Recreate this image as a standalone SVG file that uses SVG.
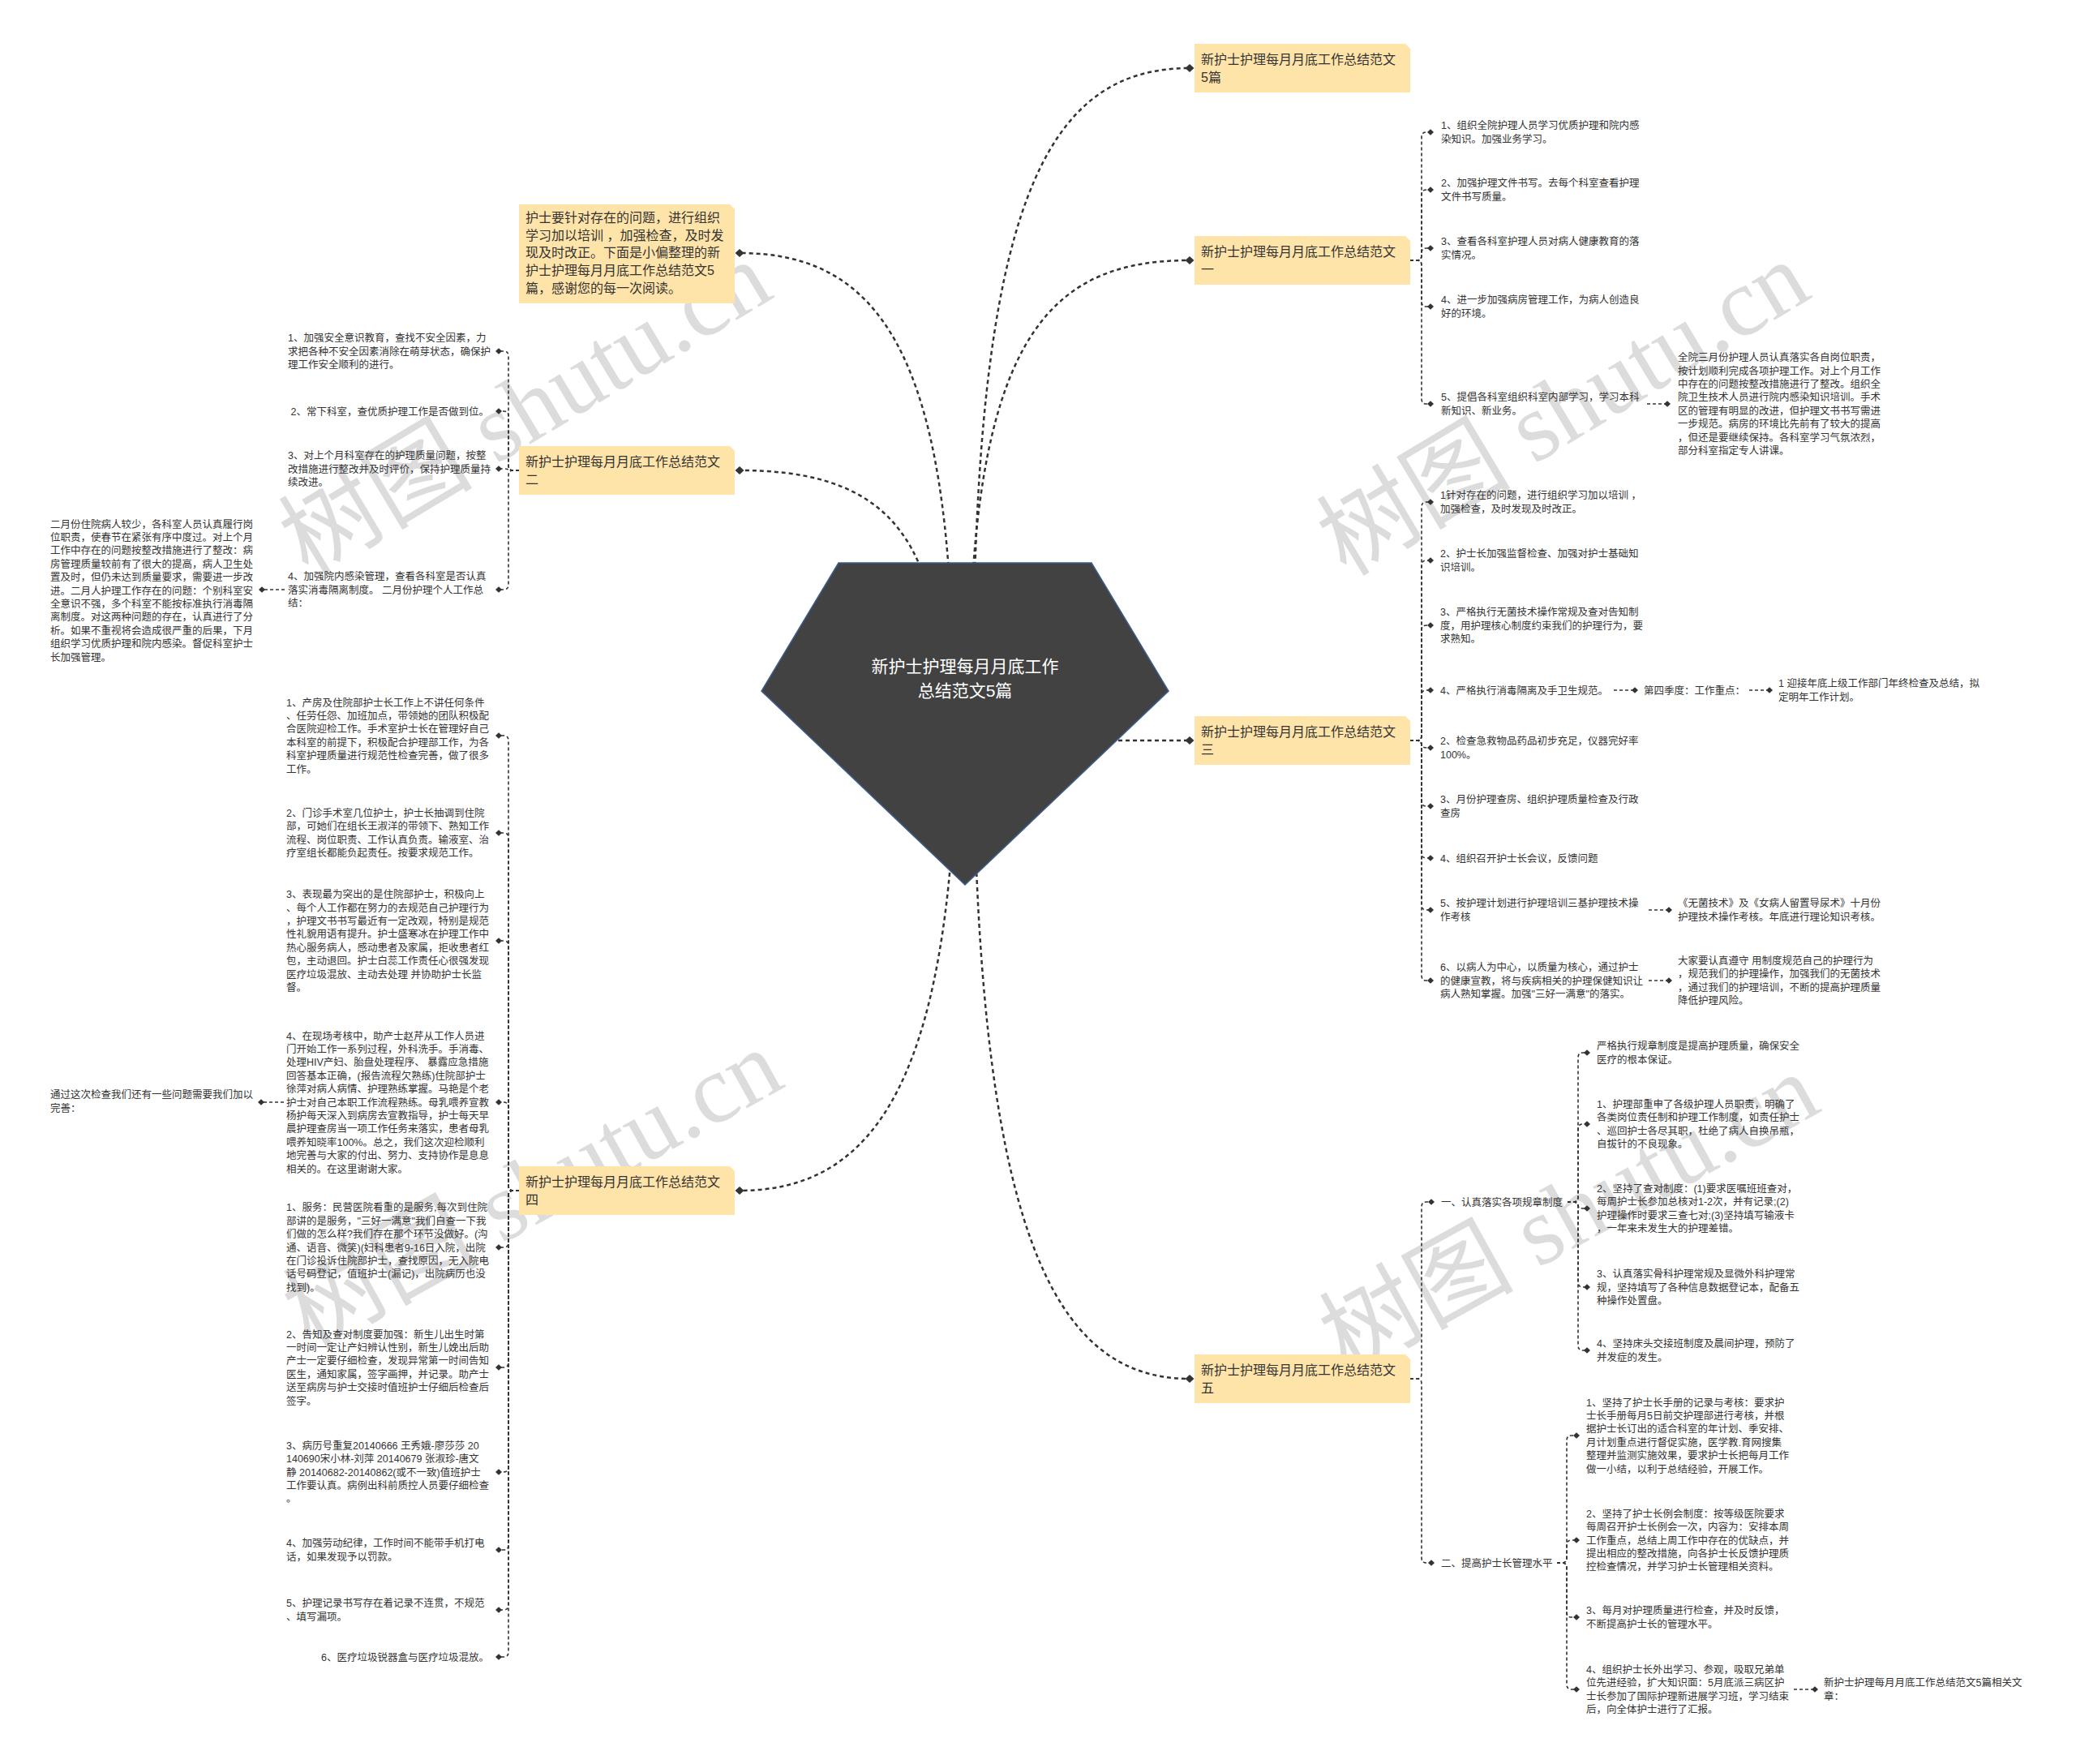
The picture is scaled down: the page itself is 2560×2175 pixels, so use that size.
<svg xmlns="http://www.w3.org/2000/svg" width="2560" height="2175" viewBox="0 0 2560 2175">
<style>
.t{font-family:"Liberation Sans","Noto Sans CJK SC",sans-serif;font-size:12.5px;fill:#333}
.n{font-family:"Liberation Sans","Noto Sans CJK SC",sans-serif;font-size:16px;fill:#333}
.c{font-family:"Liberation Sans","Noto Sans CJK SC",sans-serif;font-size:21px;fill:#fff}
.box{fill:#FFE4AA}
.main{fill:none;stroke:#333;stroke-width:2.5;stroke-dasharray:5 4;marker-end:url(#dm)}
.sub{fill:none;stroke:#333;stroke-width:1.6;stroke-dasharray:4 3;marker-end:url(#ds)}
.wm{font-family:"Liberation Serif","Noto Sans CJK SC",serif;font-size:120px;fill:#dcdcdc}
</style>
<defs>
<marker id="dm" viewBox="-6 -6 12 12" markerWidth="12" markerHeight="12" refX="0" refY="0" orient="auto" markerUnits="userSpaceOnUse"><path d="M-5.5,0 L0,-5 L5.5,0 L0,5 Z" fill="#333"/></marker>
<marker id="ds" viewBox="-5 -5 10 10" markerWidth="10" markerHeight="10" refX="0" refY="0" orient="auto" markerUnits="userSpaceOnUse"><path d="M-4,0 L0,-3.8 L4,0 L0,3.8 Z" fill="#333"/></marker>
</defs>
<rect width="2560" height="2175" fill="#fff"/>
<g id="watermarks">
<text class="wm" x="380" y="712" transform="rotate(-31 380 712)">树图 shutu.cn</text>
<text class="wm" x="1660" y="712" transform="rotate(-31 1660 712)">树图 shutu.cn</text>
<text class="wm" x="382" y="1665" transform="rotate(-29 382 1665)">树图 shutu.cn</text>
<text class="wm" x="1660" y="1695" transform="rotate(-29 1660 1695)">树图 shutu.cn</text>
</g>
<g id="connectors">
<path class="main" d="M1175,860 C1175,430 1080,312 912,312"/>
<path class="main" d="M1160,860 C1160,640 1070,580 912,580"/>
<path class="main" d="M1200,860 C1200,250 1290,84 1467,84"/>
<path class="main" d="M1195,860 C1195,420 1290,321 1467,321"/>
<path class="main" d="M1190,913 H1467"/>
<path class="main" d="M1180,860 C1180,1330 1080,1468 912,1468"/>
<path class="main" d="M1200,860 C1200,1520 1300,1700 1467,1700"/>
<!-- branch 二 -->
<path class="sub" d="M640,580 H633 Q627,580 627,574 V439 Q627,433 621,433 H615"/>
<path class="sub" d="M640,580 H633 Q627,580 627,574 V513 Q627,507 621,507 H615"/>
<path class="sub" d="M640,580 H627 Q627,578 621,578 H615"/>
<path class="sub" d="M640,580 H633 Q627,580 627,586 V721 Q627,727 621,727 H615"/>
<path class="sub" d="M351,727 H323"/>
<!-- branch 四 -->
<path class="sub" d="M640,1468 H633 Q627,1468 627,1462 V913 Q627,907 621,907 H615"/>
<path class="sub" d="M640,1468 H633 Q627,1468 627,1462 V1033 Q627,1027 621,1027 H615"/>
<path class="sub" d="M640,1468 H633 Q627,1468 627,1462 V1166 Q627,1160 621,1160 H615"/>
<path class="sub" d="M640,1468 H633 Q627,1468 627,1462 V1365 Q627,1359 621,1359 H615"/>
<path class="sub" d="M640,1468 H633 Q627,1468 627,1474 V1532 Q627,1538 621,1538 H615"/>
<path class="sub" d="M640,1468 H633 Q627,1468 627,1474 V1680 Q627,1686 621,1686 H615"/>
<path class="sub" d="M640,1468 H633 Q627,1468 627,1474 V1809 Q627,1815 621,1815 H615"/>
<path class="sub" d="M640,1468 H633 Q627,1468 627,1474 V1905 Q627,1911 621,1911 H615"/>
<path class="sub" d="M640,1468 H633 Q627,1468 627,1474 V1979 Q627,1985 621,1985 H615"/>
<path class="sub" d="M640,1468 H633 Q627,1468 627,1474 V2037 Q627,2043 621,2043 H615"/>
<path class="sub" d="M350,1359 H322"/>
<!-- branch 一 -->
<path class="sub" d="M1739,321 H1747 Q1753,321 1753,315 V169 Q1753,163 1759,163 H1764"/>
<path class="sub" d="M1739,321 H1747 Q1753,321 1753,315 V240 Q1753,234 1759,234 H1764"/>
<path class="sub" d="M1739,321 H1747 Q1753,321 1753,315 V312 Q1753,306 1759,306 H1764"/>
<path class="sub" d="M1739,321 H1747 Q1753,321 1753,327 V372 Q1753,378 1759,378 H1764"/>
<path class="sub" d="M1739,321 H1747 Q1753,321 1753,327 V492 Q1753,498 1759,498 H1764"/>
<path class="sub" d="M2031,498 H2056"/>
<!-- branch 三 -->
<path class="sub" d="M1739,913 H1747 Q1753,913 1753,907 V625 Q1753,619 1759,619 H1764"/>
<path class="sub" d="M1739,913 H1747 Q1753,913 1753,907 V697 Q1753,691 1759,691 H1764"/>
<path class="sub" d="M1739,913 H1747 Q1753,913 1753,907 V777 Q1753,771 1759,771 H1764"/>
<path class="sub" d="M1739,913 H1747 Q1753,913 1753,907 V857 Q1753,851 1759,851 H1764"/>
<path class="sub" d="M1739,913 H1747 Q1753,913 1753,917.5 Q1753,922 1759,922 H1764"/>
<path class="sub" d="M1739,913 H1747 Q1753,913 1753,919 V988 Q1753,994 1759,994 H1764"/>
<path class="sub" d="M1739,913 H1747 Q1753,913 1753,919 V1052 Q1753,1058 1759,1058 H1764"/>
<path class="sub" d="M1739,913 H1747 Q1753,913 1753,919 V1116 Q1753,1122 1759,1122 H1764"/>
<path class="sub" d="M1739,913 H1747 Q1753,913 1753,919 V1203 Q1753,1209 1759,1209 H1764"/>
<path class="sub" d="M1990,851 H2016"/>
<path class="sub" d="M2157,851 H2182"/>
<path class="sub" d="M2033,1122 H2058"/>
<path class="sub" d="M2033,1209 H2058"/>
<!-- branch 五 -->
<path class="sub" d="M1739,1700 H1747 Q1753,1700 1753,1694 V1488 Q1753,1482 1759,1482 H1765"/>
<path class="sub" d="M1739,1700 H1747 Q1753,1700 1753,1706 V1921 Q1753,1927 1759,1927 H1765"/>
<path class="sub" d="M1933,1482 H1940 Q1946,1482 1946,1476 V1304 Q1946,1298 1952,1298 H1957"/>
<path class="sub" d="M1933,1482 H1940 Q1946,1482 1946,1476 V1392 Q1946,1386 1952,1386 H1957"/>
<path class="sub" d="M1933,1482 H1940 Q1946,1482 1946,1486 Q1946,1490 1952,1490 H1957"/>
<path class="sub" d="M1933,1482 H1940 Q1946,1482 1946,1488 V1581 Q1946,1587 1952,1587 H1957"/>
<path class="sub" d="M1933,1482 H1940 Q1946,1482 1946,1488 V1659 Q1946,1665 1952,1665 H1957"/>
<path class="sub" d="M1920,1927 H1926 Q1932,1927 1932,1921 V1776 Q1932,1770 1938,1770 H1944"/>
<path class="sub" d="M1920,1927 H1926 Q1932,1927 1932,1921 V1905 Q1932,1899 1938,1899 H1944"/>
<path class="sub" d="M1920,1927 H1926 Q1932,1927 1932,1933 V1988 Q1932,1994 1938,1994 H1944"/>
<path class="sub" d="M1920,1927 H1926 Q1932,1927 1932,1933 V2077 Q1932,2083 1938,2083 H1944"/>
<path class="sub" d="M2212,2083 H2238"/>
</g>
<g id="center">
<polygon points="1034,694 1346,694 1441,852 1190,1091 939,852" fill="#424242" stroke="#3d5f8f" stroke-width="1.5"/>
<text class="c" text-anchor="middle" x="1190" y="829">新护士护理每月月底工作</text>
<text class="c" text-anchor="middle" x="1190" y="859">总结范文5篇</text>
</g>
<g id="node-intro">
<path class="box" d="M640,252 H900 L906,258 V374 H640 Z"/>
<text class="n" x="648" y="274"><tspan x="648">护士要针对存在的问题，进行组织</tspan><tspan x="648" dy="21.7">学习加以培训 ，加强检查，及时发</tspan><tspan x="648" dy="21.7">现及时改正。下面是小偏整理的新</tspan><tspan x="648" dy="21.7">护士护理每月月底工作总结范文5</tspan><tspan x="648" dy="21.7">篇，感谢您的每一次阅读。</tspan></text>
</g>
<g id="node-2">
<path class="box" d="M640,550 H900 L906,556 V610 H640 Z"/>
<text class="n" x="648" y="574.6"><tspan x="648">新护士护理每月月底工作总结范文</tspan><tspan x="648" dy="22">二</tspan></text>
</g>
<g id="node-4">
<path class="box" d="M640,1438 H900 L906,1444 V1498 H640 Z"/>
<text class="n" x="648" y="1462.6"><tspan x="648">新护士护理每月月底工作总结范文</tspan><tspan x="648" dy="22">四</tspan></text>
</g>
<g id="node-5pian">
<path class="box" d="M1473,54 H1733 L1739,60 V114 H1473 Z"/>
<text class="n" x="1481" y="78.6"><tspan x="1481">新护士护理每月月底工作总结范文</tspan><tspan x="1481" dy="22">5篇</tspan></text>
</g>
<g id="node-1">
<path class="box" d="M1473,291 H1733 L1739,297 V351 H1473 Z"/>
<text class="n" x="1481" y="315.6"><tspan x="1481">新护士护理每月月底工作总结范文</tspan><tspan x="1481" dy="22">一</tspan></text>
</g>
<g id="node-3">
<path class="box" d="M1473,883 H1733 L1739,889 V943 H1473 Z"/>
<text class="n" x="1481" y="907.6"><tspan x="1481">新护士护理每月月底工作总结范文</tspan><tspan x="1481" dy="22">三</tspan></text>
</g>
<g id="node-5">
<path class="box" d="M1473,1670 H1733 L1739,1676 V1730 H1473 Z"/>
<text class="n" x="1481" y="1694.6"><tspan x="1481">新护士护理每月月底工作总结范文</tspan><tspan x="1481" dy="22">五</tspan></text>
</g>
<!-- branch 二 leaves -->
<g id="b2-1"><text class="t" x="355" y="421.1"><tspan x="355">1、加强安全意识教育，查找不安全因素，力</tspan><tspan x="355" dy="16.4">求把各种不安全因素消除在萌芽状态，确保护</tspan><tspan x="355" dy="16.4">理工作安全顺利的进行。</tspan></text></g>
<g id="b2-2"><text class="t" x="603" y="511.5" text-anchor="end">2、常下科室，查优质护理工作是否做到位。</text></g>
<g id="b2-3"><text class="t" x="355" y="566.1"><tspan x="355">3、对上个月科室存在的护理质量问题，按整</tspan><tspan x="355" dy="16.4">改措施进行整改并及时评价，保持护理质量持</tspan><tspan x="355" dy="16.4">续改进。</tspan></text></g>
<g id="b2-4"><text class="t" x="355" y="715.1"><tspan x="355">4、加强院内感染管理，查看各科室是否认真</tspan><tspan x="355" dy="16.4">落实消毒隔离制度。 二月份护理个人工作总</tspan><tspan x="355" dy="16.4">结：</tspan></text></g>
<g id="b2-4-1"><text class="t" x="62" y="650.5"><tspan x="62">二月份住院病人较少，各科室人员认真履行岗</tspan><tspan x="62" dy="16.4">位职责，使春节在紧张有序中度过。对上个月</tspan><tspan x="62" dy="16.4">工作中存在的问题按整改措施进行了整改：病</tspan><tspan x="62" dy="16.4">房管理质量较前有了很大的提高，病人卫生处</tspan><tspan x="62" dy="16.4">置及时，但仍未达到质量要求，需要进一步改</tspan><tspan x="62" dy="16.4">进。二月人护理工作存在的问题：个别科室安</tspan><tspan x="62" dy="16.4">全意识不强，多个科室不能按标准执行消毒隔</tspan><tspan x="62" dy="16.4">离制度。对这两种问题的存在，认真进行了分</tspan><tspan x="62" dy="16.4">析。如果不重视将会造成很严重的后果，下月</tspan><tspan x="62" dy="16.4">组织学习优质护理和院内感染。督促科室护士</tspan><tspan x="62" dy="16.4">长加强管理。</tspan></text></g>
<!-- branch 四 leaves -->
<g id="b4-1"><text class="t" x="353" y="870.5"><tspan x="353">1、产房及住院部护士长工作上不讲任何条件</tspan><tspan x="353" dy="16.4">、任劳任怨、加班加点，带领她的团队积极配</tspan><tspan x="353" dy="16.4">合医院迎检工作。手术室护士长在管理好自己</tspan><tspan x="353" dy="16.4">本科室的前提下，积极配合护理部工作，为各</tspan><tspan x="353" dy="16.4">科室护理质量进行规范性检查完善，做了很多</tspan><tspan x="353" dy="16.4">工作。</tspan></text></g>
<g id="b4-2"><text class="t" x="353" y="1006.9"><tspan x="353">2、门诊手术室几位护士，护士长抽调到住院</tspan><tspan x="353" dy="16.4">部，可她们在组长王淑洋的带领下、熟知工作</tspan><tspan x="353" dy="16.4">流程、岗位职责、工作认真负责。输液室、治</tspan><tspan x="353" dy="16.4">疗室组长都能负起责任。按要求规范工作。</tspan></text></g>
<g id="b4-3"><text class="t" x="353" y="1107.1"><tspan x="353">3、表现最为突出的是住院部护士，积极向上</tspan><tspan x="353" dy="16.4">、每个人工作都在努力的去规范自己护理行为</tspan><tspan x="353" dy="16.4">，护理文书书写最近有一定改观，特别是规范</tspan><tspan x="353" dy="16.4">性礼貌用语有提升。护士盛寒冰在护理工作中</tspan><tspan x="353" dy="16.4">热心服务病人，感动患者及家属，拒收患者红</tspan><tspan x="353" dy="16.4">包，主动退回。护士白蕊工作责任心很强发现</tspan><tspan x="353" dy="16.4">医疗垃圾混放、主动去处理 并协助护士长监</tspan><tspan x="353" dy="16.4">督。</tspan></text></g>
<g id="b4-4"><text class="t" x="353" y="1281.5"><tspan x="353">4、在现场考核中，助产士赵芹从工作人员进</tspan><tspan x="353" dy="16.4">门开始工作一系列过程，外科洗手。手消毒、</tspan><tspan x="353" dy="16.4">处理HIV产妇、胎盘处理程序、 暴露应急措施</tspan><tspan x="353" dy="16.4">回答基本正确，(报告流程欠熟练)住院部护士</tspan><tspan x="353" dy="16.4">徐萍对病人病情、护理熟练掌握。马艳是个老</tspan><tspan x="353" dy="16.4">护士对自己本职工作流程熟练。母乳喂养宣教</tspan><tspan x="353" dy="16.4">杨护每天深入到病房去宣教指导，护士每天早</tspan><tspan x="353" dy="16.4">晨护理查房当一项工作任务来落实，患者母乳</tspan><tspan x="353" dy="16.4">喂养知晓率100%。总之，我们这次迎检顺利</tspan><tspan x="353" dy="16.4">地完善与大家的付出、努力、支持协作是息息</tspan><tspan x="353" dy="16.4">相关的。在这里谢谢大家。</tspan></text></g>
<g id="b4-4-1"><text class="t" x="62" y="1354.3"><tspan x="62">通过这次检查我们还有一些问题需要我们加以</tspan><tspan x="62" dy="16.4">完善：</tspan></text></g>
<g id="b4-5"><text class="t" x="353" y="1493.3"><tspan x="353">1、服务：民营医院看重的是服务,每次到住院</tspan><tspan x="353" dy="16.4">部讲的是服务，"三好一满意"我们自查一下我</tspan><tspan x="353" dy="16.4">们做的怎么样?我们存在那个环节没做好。(沟</tspan><tspan x="353" dy="16.4">通、语音、微笑)(妇科患者9-16日入院，出院</tspan><tspan x="353" dy="16.4">在门诊投诉住院部护士，查找原因，无入院电</tspan><tspan x="353" dy="16.4">话号码登记，值班护士(漏记)，出院病历也没</tspan><tspan x="353" dy="16.4">找到)。</tspan></text></g>
<g id="b4-6"><text class="t" x="353" y="1649.5"><tspan x="353">2、告知及查对制度要加强：新生儿出生时第</tspan><tspan x="353" dy="16.4">一时间一定让产妇辨认性别，新生儿娩出后助</tspan><tspan x="353" dy="16.4">产士一定要仔细检查，发现异常第一时间告知</tspan><tspan x="353" dy="16.4">医生，通知家属，签字画押，并记录。助产士</tspan><tspan x="353" dy="16.4">送至病房与护士交接时值班护士仔细后检查后</tspan><tspan x="353" dy="16.4">签字。</tspan></text></g>
<g id="b4-7"><text class="t" x="353" y="1786.7"><tspan x="353">3、病历号重复20140666 王秀娥-廖莎莎 20</tspan><tspan x="353" dy="16.4">140690宋小林-刘萍 20140679 张淑珍-唐文</tspan><tspan x="353" dy="16.4">静 20140682-20140862(或不一致)值班护士</tspan><tspan x="353" dy="16.4">工作要认真。病例出科前质控人员要仔细检查</tspan><tspan x="353" dy="16.4">。</tspan></text></g>
<g id="b4-8"><text class="t" x="353" y="1907.3"><tspan x="353">4、加强劳动纪律，工作时间不能带手机打电</tspan><tspan x="353" dy="16.4">话，如果发现予以罚款。</tspan></text></g>
<g id="b4-9"><text class="t" x="353" y="1981.3"><tspan x="353">5、护理记录书写存在着记录不连贯，不规范</tspan><tspan x="353" dy="16.4">、填写漏项。</tspan></text></g>
<g id="b4-10"><text class="t" x="603" y="2047.5" text-anchor="end">6、医疗垃圾锐器盒与医疗垃圾混放。</text></g>
<!-- branch 一 leaves -->
<g id="b1-1"><text class="t" x="1777" y="159.3"><tspan x="1777">1、组织全院护理人员学习优质护理和院内感</tspan><tspan x="1777" dy="16.4">染知识。加强业务学习。</tspan></text></g>
<g id="b1-2"><text class="t" x="1777" y="230.3"><tspan x="1777">2、加强护理文件书写。去每个科室查看护理</tspan><tspan x="1777" dy="16.4">文件书写质量。</tspan></text></g>
<g id="b1-3"><text class="t" x="1777" y="302.3"><tspan x="1777">3、查看各科室护理人员对病人健康教育的落</tspan><tspan x="1777" dy="16.4">实情况。</tspan></text></g>
<g id="b1-4"><text class="t" x="1777" y="374.3"><tspan x="1777">4、进一步加强病房管理工作，为病人创造良</tspan><tspan x="1777" dy="16.4">好的环境。</tspan></text></g>
<g id="b1-5"><text class="t" x="1777" y="494.3"><tspan x="1777">5、提倡各科室组织科室内部学习，学习本科</tspan><tspan x="1777" dy="16.4">新知识、新业务。</tspan></text></g>
<g id="b1-5-1"><text class="t" x="2069" y="445.1"><tspan x="2069">全院三月份护理人员认真落实各自岗位职责，</tspan><tspan x="2069" dy="16.4">按计划顺利完成各项护理工作。对上个月工作</tspan><tspan x="2069" dy="16.4">中存在的问题按整改措施进行了整改。组织全</tspan><tspan x="2069" dy="16.4">院卫生技术人员进行院内感染知识培训。手术</tspan><tspan x="2069" dy="16.4">区的管理有明显的改进，但护理文书书写需进</tspan><tspan x="2069" dy="16.4">一步规范。病房的环境比先前有了较大的提高</tspan><tspan x="2069" dy="16.4">，但还是要继续保持。各科室学习气氛浓烈，</tspan><tspan x="2069" dy="16.4">部分科室指定专人讲课。</tspan></text></g>
<!-- branch 三 leaves -->
<g id="b3-1"><text class="t" x="1776" y="615.3"><tspan x="1776">1针对存在的问题，进行组织学习加以培训 ，</tspan><tspan x="1776" dy="16.4">加强检查，及时发现及时改正。</tspan></text></g>
<g id="b3-2"><text class="t" x="1776" y="687.3"><tspan x="1776">2、护士长加强监督检查、加强对护士基础知</tspan><tspan x="1776" dy="16.4">识培训。</tspan></text></g>
<g id="b3-3"><text class="t" x="1776" y="759.1"><tspan x="1776">3、严格执行无菌技术操作常规及查对告知制</tspan><tspan x="1776" dy="16.4">度，用护理核心制度约束我们的护理行为，要</tspan><tspan x="1776" dy="16.4">求熟知。</tspan></text></g>
<g id="b3-4"><text class="t" x="1776" y="855.5">4、严格执行消毒隔离及手卫生规范。</text></g>
<g id="b3-4-1"><text class="t" x="2027" y="855.5">第四季度：工作重点：</text></g>
<g id="b3-4-1-1"><text class="t" x="2193" y="847.3"><tspan x="2193">1 迎接年底上级工作部门年终检查及总结，拟</tspan><tspan x="2193" dy="16.4">定明年工作计划。</tspan></text></g>
<g id="b3-5"><text class="t" x="1776" y="918.3"><tspan x="1776">2、检查急救物品药品初步充足，仪器完好率</tspan><tspan x="1776" dy="16.4">100%。</tspan></text></g>
<g id="b3-6"><text class="t" x="1776" y="990.3"><tspan x="1776">3、月份护理查房、组织护理质量检查及行政</tspan><tspan x="1776" dy="16.4">查房</tspan></text></g>
<g id="b3-7"><text class="t" x="1776" y="1062.5">4、组织召开护士长会议，反馈问题</text></g>
<g id="b3-8"><text class="t" x="1776" y="1118.3"><tspan x="1776">5、按护理计划进行护理培训三基护理技术操</tspan><tspan x="1776" dy="16.4">作考核</tspan></text></g>
<g id="b3-8-1"><text class="t" x="2069" y="1118.3"><tspan x="2069">《无菌技术》及《女病人留置导尿术》十月份</tspan><tspan x="2069" dy="16.4">护理技术操作考核。年底进行理论知识考核。</tspan></text></g>
<g id="b3-9"><text class="t" x="1776" y="1197.1"><tspan x="1776">6、以病人为中心，以质量为核心，通过护士</tspan><tspan x="1776" dy="16.4">的健康宣教，将与疾病相关的护理保健知识让</tspan><tspan x="1776" dy="16.4">病人熟知掌握。加强"三好一满意"的落实。</tspan></text></g>
<g id="b3-9-1"><text class="t" x="2069" y="1188.9"><tspan x="2069">大家要认真遵守 用制度规范自己的护理行为</tspan><tspan x="2069" dy="16.4">，规范我们的护理操作，加强我们的无菌技术</tspan><tspan x="2069" dy="16.4">，通过我们的护理培训，不断的提高护理质量</tspan><tspan x="2069" dy="16.4">降低护理风险。</tspan></text></g>
<!-- branch 五 -->
<g id="b5-1"><text class="t" x="1777" y="1486.5">一、认真落实各项规章制度</text></g>
<g id="b5-1-a"><text class="t" x="1969" y="1294.3"><tspan x="1969">严格执行规章制度是提高护理质量，确保安全</tspan><tspan x="1969" dy="16.4">医疗的根本保证。</tspan></text></g>
<g id="b5-1-b"><text class="t" x="1969" y="1365.9"><tspan x="1969">1、护理部重申了各级护理人员职责，明确了</tspan><tspan x="1969" dy="16.4">各类岗位责任制和护理工作制度，如责任护士</tspan><tspan x="1969" dy="16.4">、巡回护士各尽其职，杜绝了病人自换吊瓶，</tspan><tspan x="1969" dy="16.4">自拔针的不良现象。</tspan></text></g>
<g id="b5-1-c"><text class="t" x="1969" y="1469.9"><tspan x="1969">2、坚持了查对制度：(1)要求医嘱班班查对，</tspan><tspan x="1969" dy="16.4">每周护士长参加总核对1-2次，并有记录;(2)</tspan><tspan x="1969" dy="16.4">护理操作时要求三查七对;(3)坚持填写输液卡</tspan><tspan x="1969" dy="16.4">，一年来未发生大的护理差错。</tspan></text></g>
<g id="b5-1-d"><text class="t" x="1969" y="1575.1"><tspan x="1969">3、认真落实骨科护理常规及显微外科护理常</tspan><tspan x="1969" dy="16.4">规，坚持填写了各种信息数据登记本，配备五</tspan><tspan x="1969" dy="16.4">种操作处置盘。</tspan></text></g>
<g id="b5-1-e"><text class="t" x="1969" y="1661.3"><tspan x="1969">4、坚持床头交接班制度及晨间护理，预防了</tspan><tspan x="1969" dy="16.4">并发症的发生。</tspan></text></g>
<g id="b5-2"><text class="t" x="1777" y="1931.5">二、提高护士长管理水平</text></g>
<g id="b5-2-a"><text class="t" x="1956" y="1733.5"><tspan x="1956">1、坚持了护士长手册的记录与考核：要求护</tspan><tspan x="1956" dy="16.4">士长手册每月5日前交护理部进行考核，并根</tspan><tspan x="1956" dy="16.4">据护士长订出的适合科室的年计划、季安排、</tspan><tspan x="1956" dy="16.4">月计划重点进行督促实施，医学教.育网搜集</tspan><tspan x="1956" dy="16.4">整理并监测实施效果，要求护士长把每月工作</tspan><tspan x="1956" dy="16.4">做一小结，以利于总结经验，开展工作。</tspan></text></g>
<g id="b5-2-b"><text class="t" x="1956" y="1870.7"><tspan x="1956">2、坚持了护士长例会制度：按等级医院要求</tspan><tspan x="1956" dy="16.4">每周召开护士长例会一次，内容为：安排本周</tspan><tspan x="1956" dy="16.4">工作重点，总结上周工作中存在的优缺点，并</tspan><tspan x="1956" dy="16.4">提出相应的整改措施，向各护士长反馈护理质</tspan><tspan x="1956" dy="16.4">控检查情况，并学习护士长管理相关资料。</tspan></text></g>
<g id="b5-2-c"><text class="t" x="1956" y="1990.3"><tspan x="1956">3、每月对护理质量进行检查，并及时反馈，</tspan><tspan x="1956" dy="16.4">不断提高护士长的管理水平。</tspan></text></g>
<g id="b5-2-d"><text class="t" x="1956" y="2062.9"><tspan x="1956">4、组织护士长外出学习、参观，吸取兄弟单</tspan><tspan x="1956" dy="16.4">位先进经验，扩大知识面：5月底派三病区护</tspan><tspan x="1956" dy="16.4">士长参加了国际护理新进展学习班，学习结束</tspan><tspan x="1956" dy="16.4">后，向全体护士进行了汇报。</tspan></text></g>
<g id="b5-2-d-1"><text class="t" x="2249" y="2079.3"><tspan x="2249">新护士护理每月月底工作总结范文5篇相关文</tspan><tspan x="2249" dy="16.4">章：</tspan></text></g>
</svg>
